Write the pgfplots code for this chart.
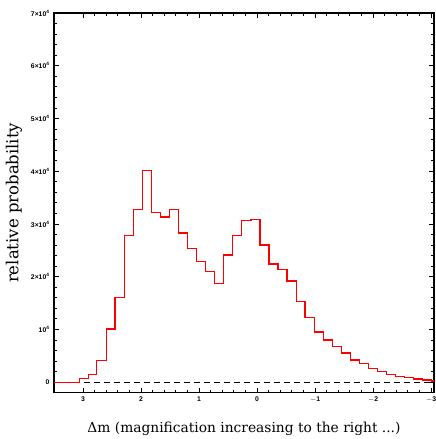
\documentclass[border=0pt]{standalone}
\usepackage{fontspec}
\setmainfont{Latin Modern Roman}
\setsansfont{Liberation Sans}
\newfontfamily\labelfont{DejaVu Serif}
\usepackage{pgfplots}
\pgfplotsset{compat=1.18}
\begin{document}
\begin{tikzpicture}
\begin{axis}[
  scale only axis,
  width=380pt, height=379.7pt,
  x dir=reverse,
  xmin=-3.05, xmax=3.5,
  ymin=-0.2, ymax=7,
  axis line style={line width=1.2pt},
  tick align=inside,
  major tick length=5pt,
  minor tick length=3pt,
  every tick/.style={black, line width=0.8pt},
  xtick={-3,-2,-1,0,1,2,3},
  xticklabels={$-$3,$-$2,$-$1,0,1,2,3},
  minor x tick num=4,
  ytick={0,1,2,3,4,5,6,7},
  yticklabels={0,10\textsuperscript{4},2×10\textsuperscript{4},3×10\textsuperscript{4},4×10\textsuperscript{4},5×10\textsuperscript{4},6×10\textsuperscript{4},7×10\textsuperscript{4}},
  minor y tick num=4,
  tick label style={font=\sffamily\bfseries\fontsize{6.8}{7}\selectfont},
  xticklabel style={yshift=-1pt},
  yticklabel style={xshift=-1pt},
  xlabel={Δm (magnification increasing to the right ...)},
  ylabel={relative probability},
  xlabel style={font=\labelfont\fontsize{13.8}{15}\selectfont, yshift=-12pt},
  ylabel style={font=\labelfont\fontsize{16.5}{18}\selectfont, yshift=2pt},
  clip=false,
]
\addplot[black, line width=0.8pt, dash pattern=on 6pt off 4pt] coordinates {(3.5,0) (-3.05,0)};
\addplot[red, line width=1.3pt, const plot] coordinates {
(3.5,0) (3.062,0.07) (2.907,0.15) (2.763,0.41) (2.601,1.01) (2.446,1.61) (2.285,2.78) (2.130,3.27) (1.979,4.02) (1.824,3.22) (1.663,3.13) (1.508,3.27) (1.352,2.83) (1.197,2.53) (1.041,2.29) (0.886,2.10) (0.731,1.87) (0.575,2.41) (0.420,2.78) (0.264,3.06) (0.104,3.08) (-0.052,2.60) (-0.207,2.24) (-0.363,2.14) (-0.518,1.92) (-0.674,1.53) (-0.829,1.22) (-0.991,0.95) (-1.147,0.80) (-1.302,0.67) (-1.458,0.55) (-1.613,0.42) (-1.769,0.35) (-1.924,0.26) (-2.079,0.20) (-2.235,0.145) (-2.390,0.11) (-2.546,0.083) (-2.701,0.057) (-2.857,0.038) (-3.012,0.02) (-3.05,0.02)
};
\end{axis}
\pgfresetboundingbox
\useasboundingbox (-54pt,-46.3pt) rectangle (382pt,392.7pt);
\end{tikzpicture}
\end{document}
